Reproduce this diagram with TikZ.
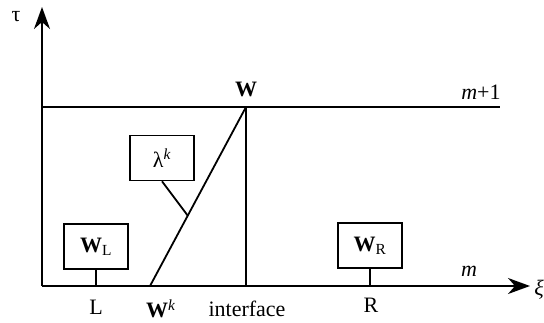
\documentclass[tikz,border=0pt]{standalone}
\usepackage{fontspec}
\setmainfont{Liberation Serif}
\usetikzlibrary{arrows.meta}
\begin{document}
\begin{tikzpicture}[x=1pt,y=-1pt,line width=1.8pt,
  lbl/.style={font=\fontsize{22}{26}\selectfont,inner sep=0pt},
  boxn/.style={draw,line width=1.6pt,font=\fontsize{22}{26}\selectfont,minimum width=64pt,minimum height=45pt,inner sep=0pt},
  axarrow/.style={-{Stealth[length=22pt,width=16pt,inset=7pt]}}]
\useasboundingbox (0,0) rectangle (544,322);
\coordinate (O) at (42,286);
\coordinate (ytip) at (42,7);
\coordinate (xtip) at (530,286);
\coordinate (TL) at (42,107);
\coordinate (TR) at (500,107);
\coordinate (Wtop) at (246,107);
\coordinate (Wbot) at (246,286);
\coordinate (Wk) at (150,286);
\coordinate (lamfoot) at (188,216);
\coordinate (Lfoot) at (96,286);
\coordinate (Rfoot) at (370,286);
\draw[axarrow] (O) -- (ytip);
\draw[axarrow] (O) -- (xtip);
\draw (TL) -- (TR);
\draw (Wtop) -- (Wbot);
\draw (Wk) -- (Wtop);
\node[boxn] (lam) at (162,158) {λ\textsuperscript{\textit{k}}};
\node[boxn] (WL) at (96,246.5) {\textbf{W}\textsubscript{L}};
\node[boxn] (WR) at (370,245.5) {\textbf{W}\textsubscript{R}};
\draw (lam.south) -- (lamfoot);
\draw (WL.south) -- (Lfoot);
\draw (WR.south) -- (Rfoot);
\node[lbl] (tau) at (16,17) {τ};
\node[lbl] (xi) at (539,290) {\textit{ξ}};
\node[lbl] (W) at (246,89) {\textbf{W}};
\node[lbl] (m1) at (481,92) {\textit{m}+1};
\node[lbl] (m) at (469,271) {\textit{m}};
\node[lbl] (L) at (96,307) {L};
\node[lbl] (Wkl) at (161,309) {\textbf{W}\textsuperscript{\textit{k}}};
\node[lbl] (intf) at (247,309) {interface};
\node[lbl] (R) at (371,305) {R};
\end{tikzpicture}
\end{document}
